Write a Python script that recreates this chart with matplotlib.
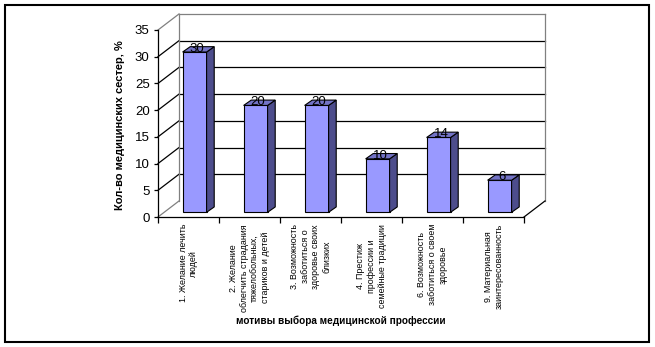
import matplotlib.pyplot as plt
from matplotlib.patches import Polygon, Rectangle

plt.rcParams['font.family'] = ['Liberation Sans', 'DejaVu Sans']

labels = [
    "1. Желание лечить\nлюдей",
    "2. Желание\nоблегчить страдания\nтяжелобольных,\nстариков и детей",
    "3. Возможность\nзаботиться о\nздоровье своих\nблизких",
    "4. Престиж\nпрофессии и\nсемейные традиции",
    "6. Возможность\nзаботиться о своем\nздоровье",
    "9. Материальная\nзаинтересованность",
]
values = [30, 20, 20, 10, 14, 6]
yticks = [0, 5, 10, 15, 20, 25, 30, 35]

front_c = '#9999FF'
side_c = '#4D4D8C'
top_c = '#7373C6'

# depth of the walls and position/size of the bars in depth (data units)
DX, DY = 0.344, 3.0
bx, by = 0.10, 0.88
ddx, ddy = 0.125, 1.0
w = 0.393

fig = plt.figure(figsize=(6.55, 3.47), dpi=100)
fig.patches.append(Rectangle((5 / 655, 5 / 347), 644 / 655, 337 / 347,
                             transform=fig.transFigure, fill=False,
                             edgecolor='black', linewidth=1.5))

ax = fig.add_axes([158 / 655, (347 - 217) / 347, 366 / 655, 187 / 347])
ax.set_xlim(0, 6)
ax.set_ylim(0, 35)
ax.patch.set_visible(False)
for s in ['top', 'right']:
    ax.spines[s].set_visible(False)
for s in ['left', 'bottom']:
    ax.spines[s].set_linewidth(0.9)

n = len(values)
# back wall and side wall grid
for v in yticks:
    col = 'gray' if v in (0, 35) else 'black'
    if v != 0:
        ax.plot([DX, n + DX], [v + DY, v + DY], color=col, lw=0.9,
                clip_on=False, zorder=1)
    ax.plot([0, DX], [v, v + DY], color=col, lw=0.9, clip_on=False, zorder=1)
ax.plot([DX, DX], [DY, 35 + DY], color='gray', lw=0.9, clip_on=False, zorder=1)
ax.plot([n + DX, n + DX], [DY, 35 + DY], color='gray', lw=0.9,
        clip_on=False, zorder=1)
ax.plot([n, n + DX], [0, DY], color='black', lw=0.9, clip_on=False, zorder=1)

for i, v in enumerate(values):
    x0 = i + 0.5 + bx - w / 2
    x1 = x0 + w
    y0 = by
    y1 = by + v
    ax.bar(x0, v, width=w, bottom=y0, align='edge', color=front_c,
           edgecolor='black', linewidth=0.8, zorder=3, clip_on=False)
    ax.add_patch(Polygon([(x1, y0), (x1 + ddx, y0 + ddy), (x1 + ddx, y1 + ddy),
                          (x1, y1)], closed=True, facecolor=side_c,
                         edgecolor='black', linewidth=0.8, zorder=3,
                         clip_on=False))
    ax.add_patch(Polygon([(x0, y1), (x1, y1), (x1 + ddx, y1 + ddy),
                          (x0 + ddx, y1 + ddy)], closed=True, facecolor=top_c,
                         edgecolor='black', linewidth=0.8, zorder=3,
                         clip_on=False))
    ax.text(i + 0.5 + bx + 0.04, y1, str(v), ha='center', va='baseline',
            fontsize=9.5, zorder=4, clip_on=False)

ax.set_yticks(yticks)
ax.set_yticklabels([str(t) for t in yticks], fontsize=9.5)
ax.tick_params(axis='y', direction='out', length=3, width=0.9, pad=3)

ax.set_xticks(range(n + 1))
ax.set_xticklabels([])
ax.tick_params(axis='x', which='major', direction='out', length=4, width=0.9)
ax.set_xticks([i + 0.5 for i in range(n)], minor=True)
ax.set_xticklabels(labels, minor=True, rotation=90, fontsize=6.4,
                   ha='center', va='top', multialignment='center',
                   linespacing=1.25)
ax.tick_params(axis='x', which='minor', length=0, pad=5)

fig.text(120 / 655, 1 - 125 / 347, 'Кол-во медицинских сестер, %',
         rotation=90, ha='center', va='center', fontsize=8, fontweight='bold')
fig.text(341 / 655, 1 - 321 / 347, 'мотивы выбора медицинской профессии',
         ha='center', va='center', fontsize=7.2, fontweight='bold')

fig.savefig('out.png', dpi=100)
